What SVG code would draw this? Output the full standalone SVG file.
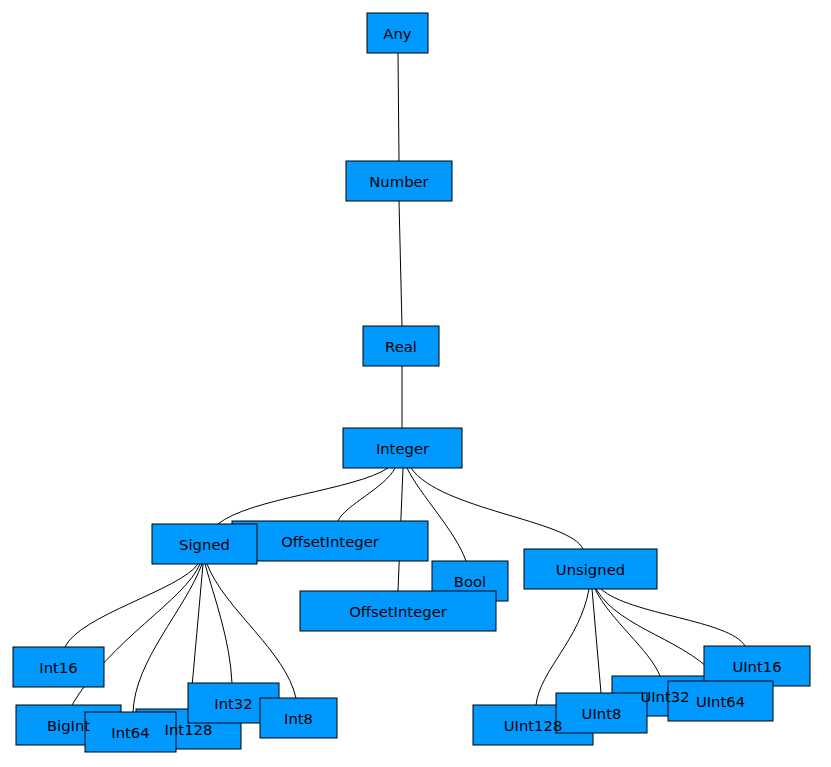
<svg xmlns="http://www.w3.org/2000/svg" width="831" height="767" viewBox="0 0 831 767">
<style>
.n rect{fill:#0099ff;stroke:#000;stroke-width:1}
.l text{font-family:"DejaVu Sans",sans-serif;font-size:14.8px;fill:#000;text-anchor:middle}
.e path{fill:none;stroke:#000;stroke-width:1}
</style>
<rect width="831" height="767" fill="#fff"/>
<g id="edges" class="e">
<path d="M398,53 L399,161"/>
<path d="M399,201 L402,326"/>
<path d="M402,366 L402,428"/>
<path d="M388,468 C355,490 250,498 218,524"/>
<path d="M395,468 C385,488 345,505 338,521"/>
<path d="M403,468 L398,591"/>
<path d="M407,468 C420,495 455,530 466,561"/>
<path d="M411,468 C440,510 570,520 583,549"/>
<path d="M198,564 C180,590 80,615 65,647"/>
<path d="M200,564 C185,600 110,640 72,705"/>
<path d="M202,564 C185,610 135,660 133,712"/>
<path d="M203,564 L190,709"/>
<path d="M205,564 C215,600 230,640 232,683"/>
<path d="M207,564 C225,610 285,650 296,698"/>
<path d="M589,589 C580,640 540,670 536,705"/>
<path d="M592,589 L601,693"/>
<path d="M595,589 C610,620 650,650 660,676"/>
<path d="M596,589 C620,630 690,640 720,681"/>
<path d="M601,589 C630,615 730,620 745,646"/>
</g>
<g id="nodes" class="n">
<g id="n-any"><rect x="367" y="13" width="61" height="40"/></g>
<g id="n-number"><rect x="346" y="161" width="106" height="40"/></g>
<g id="n-real"><rect x="363" y="326" width="76" height="40"/></g>
<g id="n-integer"><rect x="343" y="428" width="119" height="40"/></g>
<g id="n-offsetinteger1"><rect x="232" y="521" width="196" height="40"/></g>
<g id="n-signed"><rect x="152" y="524" width="105" height="40"/></g>
<g id="n-bool"><rect x="432" y="561" width="76" height="40"/></g>
<g id="n-offsetinteger2"><rect x="300" y="591" width="196" height="40"/></g>
<g id="n-unsigned"><rect x="524" y="549" width="133" height="40"/></g>
<g id="n-int16"><rect x="13" y="647" width="91" height="40"/></g>
<g id="n-bigint"><rect x="16" y="705" width="105" height="40"/></g>
<g id="n-int128"><rect x="136" y="709" width="105" height="40"/></g>
<g id="n-int64"><rect x="85" y="712" width="91" height="40"/></g>
<g id="n-int32"><rect x="188" y="683" width="91" height="40"/></g>
<g id="n-int8"><rect x="260" y="698" width="77" height="40"/></g>
<g id="n-uint128"><rect x="473" y="705" width="120" height="40"/></g>
<g id="n-uint32"><rect x="612" y="676" width="106" height="40"/></g>
<g id="n-uint8"><rect x="556" y="693" width="91" height="40"/></g>
<g id="n-uint16"><rect x="704" y="646" width="106" height="40"/></g>
<g id="n-uint64"><rect x="668" y="681" width="105" height="40"/></g>
</g>
<g id="labels" class="l">
<text id="t-any" x="397.5" y="38.5">Any</text>
<text id="t-number" x="399" y="186.5">Number</text>
<text id="t-real" x="401" y="351.5">Real</text>
<text id="t-integer" x="402.5" y="453.5">Integer</text>
<text id="t-offsetinteger1" x="330" y="546.5">OffsetInteger</text>
<text id="t-signed" x="204.5" y="549.5">Signed</text>
<text id="t-bool" x="470" y="586.5">Bool</text>
<text id="t-offsetinteger2" x="398" y="616.5">OffsetInteger</text>
<text id="t-unsigned" x="590.5" y="574.5">Unsigned</text>
<text id="t-int16" x="58.5" y="672.5">Int16</text>
<text id="t-bigint" x="68.5" y="730.5">BigInt</text>
<text id="t-int128" x="188.5" y="734.5">Int128</text>
<text id="t-int64" x="130.5" y="737.5">Int64</text>
<text id="t-int32" x="233.5" y="708.5">Int32</text>
<text id="t-int8" x="298.5" y="723.5">Int8</text>
<text id="t-uint128" x="533" y="730.5">UInt128</text>
<text id="t-uint32" x="665" y="701.5">UInt32</text>
<text id="t-uint8" x="601.5" y="718.5">UInt8</text>
<text id="t-uint16" x="757" y="671.5">UInt16</text>
<text id="t-uint64" x="720.5" y="706.5">UInt64</text>
</g>
</svg>
